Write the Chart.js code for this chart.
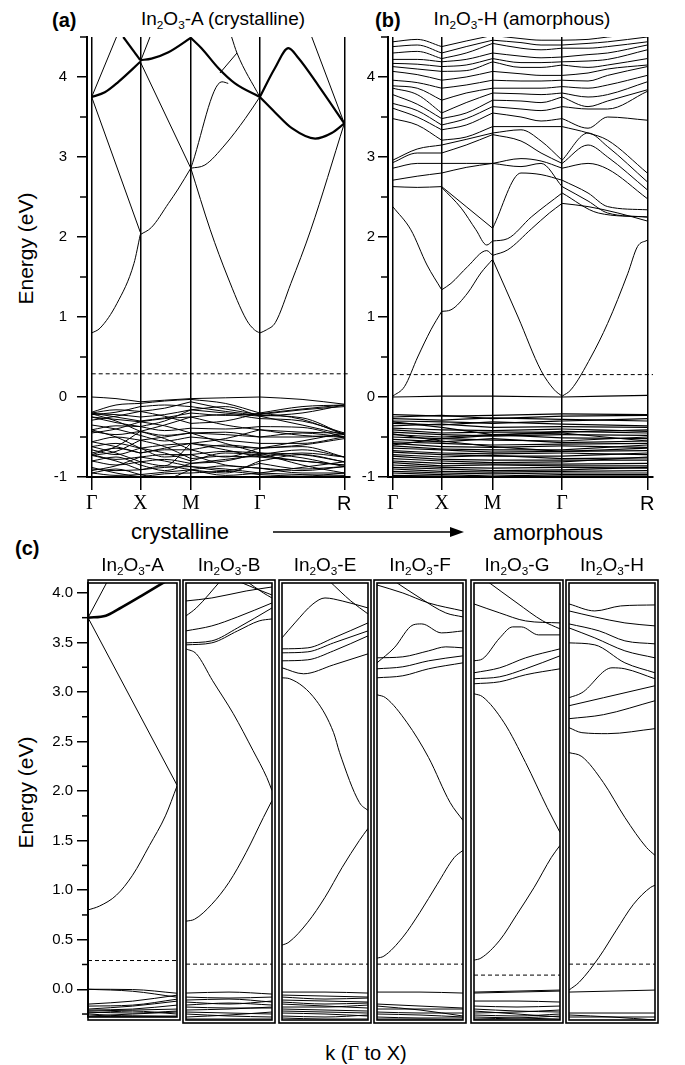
<!DOCTYPE html>
<html>
<head>
<meta charset="utf-8">
<title>In2O3 band structures</title>
<script src="https://cdn.jsdelivr.net/npm/chart.js@4.4.1/dist/chart.umd.min.js"></script>
<style>
  body { margin: 0; background: #fff; }
  #page { position: relative; width: 685px; height: 1065px; overflow: hidden; font-family: "Liberation Sans", Arial, sans-serif; color: #000; }
  #page canvas { position: absolute; }
  .t { position: absolute; white-space: nowrap; line-height: 1; }
  .t sub { font-size: 0.62em; vertical-align: -0.3em; line-height: 0; }
  .panel { font-weight: bold; font-size: 20px; }
  .title { font-size: 19px; text-align: center; }
  .ylab { font-size: 21px; width: 200px; text-align: center; transform: rotate(-90deg); }
  .big { font-size: 22px; text-align: center; width: 200px; }
  .serif { font-family: "Liberation Serif", "DejaVu Serif", serif; }
</style>
</head>
<body>
<div id="page">
  <div class="t panel" style="left:52px;top:10px">(a)</div>
  <div class="t title" style="left:123px;width:200px;top:9px">In<sub>2</sub>O<sub>3</sub>-A (crystalline)</div>
  <div class="t panel" style="left:375px;top:10px">(b)</div>
  <div class="t title" style="left:422px;width:200px;top:9px">In<sub>2</sub>O<sub>3</sub>-H (amorphous)</div>
  <div class="t ylab" style="left:-75px;top:238px">Energy (eV)</div>
  <div class="t panel" style="left:15px;top:538px">(c)</div>
  <div class="t big" style="left:80px;top:521px">crystalline</div>
  <div class="t big" style="left:448px;top:522px">amorphous</div>
  <svg style="position:absolute;left:270px;top:526px" width="200" height="12">
    <line x1="3" y1="6" x2="184" y2="6" stroke="#000" stroke-width="1.5"/>
    <polygon points="180,1 194,6 180,11" fill="#000"/>
  </svg>
  <div class="t ylab" style="left:-75px;top:782px">Energy (eV)</div>
  <div class="t" style="left:316px;width:100px;text-align:center;top:1043px;font-size:20px">k (<span class="serif">Γ</span> to X)</div>
</div>
<script>
// high-symmetry path for panels (a) and (b)
const kSym = [0, 1, 2.04, 3.46, 5.2];
const symLabels = ['Γ', 'X', 'M', 'Γ', 'R'];
const yMajorAB = [-1, 0, 1, 2, 3, 4];
const yMinorAB = [-0.5, 0.5, 1.5, 2.5, 3.5, 4.5];
const yMajorC = [0, 0.5, 1, 1.5, 2, 2.5, 3, 3.5, 4];
const yMinorC = [-0.25, 0.25, 0.75, 1.25, 1.75, 2.25, 2.75, 3.25, 3.75];
const fermiA = 0.29;
const fermiB = 0.28;

// (a) In2O3-A, conduction bands as [k, E] paths
const aThick = [
  [[0, 3.75], [0.27, 3.81], [0.55, 3.94], [1, 4.19]],
  [[0.65, 4.5], [1, 4.21]],
  [[1, 4.21], [1.23, 4.23], [1.58, 4.31], [2.04, 4.49]],
  [[2.04, 4.49], [2.26, 4.36], [2.61, 4.11], [2.95, 3.92], [3.46, 3.75]],
  [[3.46, 3.75], [3.77, 3.56], [4.12, 3.36], [4.6, 3.23], [4.94, 3.3], [5.2, 3.42]],
  [[3.46, 3.75], [3.77, 4.11], [4.05, 4.36], [4.25, 4.24], [4.67, 3.89], [5.2, 3.42]]
];
const aThin = [
  [[0, 0.8], [0.17, 0.86], [0.52, 1.17], [0.87, 1.67], [1, 2.03], [1.23, 2.12], [1.58, 2.42], [1.78, 2.6], [2.04, 2.86],
   [2.44, 2.09], [2.8, 1.5], [3.19, 0.96], [3.35, 0.84], [3.46, 0.8], [3.6, 0.84], [3.78, 0.93], [4.1, 1.42], [4.51, 2.09], [5.2, 3.42]],
  [[0, 3.75], [1, 2.06]],
  [[0, 3.75], [0.51, 4.5]],
  [[1, 4.19], [1.2, 4.5]],
  [[1, 4.19], [2.04, 2.86]],
  [[2.04, 2.86], [2.33, 2.9], [2.74, 3.15], [3.16, 3.48], [3.46, 3.75]],
  [[2.04, 2.86], [2.68, 3.94], [2.81, 3.92]],
  [[2.64, 4.05], [2.99, 4.3]],
  [[2.88, 4.5], [2.99, 4.3], [3.46, 3.75]],
  [[4.53, 4.5], [5.2, 3.42]]
];
// (a) valence bands, energies at aValK
const aValK = [0, 0.5, 1, 1.5, 2.04, 2.75, 3.46, 4.33, 5.2];
const aVal = [
  [0.00, -0.02, -0.06, -0.04, -0.02, -0.01, 0.00, -0.03, -0.09],
  [-0.19, -0.10, -0.08, -0.05, -0.03, -0.08, -0.20, -0.12, -0.10],
  [-0.20, -0.16, -0.18, -0.14, -0.06, -0.15, -0.22, -0.16, -0.12],
  [-0.21, -0.22, -0.25, -0.22, -0.16, -0.20, -0.24, -0.20, -0.10],
  [-0.25, -0.28, -0.31, -0.27, -0.25, -0.22, -0.27, -0.30, -0.45],
  [-0.29, -0.24, -0.18, -0.24, -0.33, -0.30, -0.20, -0.28, -0.47],
  [-0.41, -0.36, -0.37, -0.42, -0.39, -0.40, -0.37, -0.38, -0.50],
  [-0.43, -0.47, -0.43, -0.35, -0.25, -0.35, -0.41, -0.44, -0.45],
  [-0.56, -0.50, -0.54, -0.50, -0.45, -0.44, -0.50, -0.50, -0.47],
  [-0.62, -0.58, -0.64, -0.60, -0.58, -0.52, -0.41, -0.48, -0.50],
  [-0.70, -0.64, -0.70, -0.66, -0.66, -0.60, -0.64, -0.62, -0.75],
  [-0.72, -0.78, -0.75, -0.72, -0.72, -0.68, -0.70, -0.72, -0.81],
  [-0.73, -0.68, -0.54, -0.62, -0.77, -0.74, -0.75, -0.80, -0.85],
  [-0.80, -0.85, -0.81, -0.78, -0.83, -0.80, -0.70, -0.76, -0.87],
  [-0.90, -0.92, -0.91, -0.88, -0.87, -0.92, -0.83, -0.90, -0.87],
  [-0.95, -0.98, -0.97, -0.94, -0.91, -0.86, -0.89, -0.95, -0.95],
  [-0.62, -0.70, -0.81, -0.86, -0.58, -0.66, -0.75, -0.70, -0.75],
  [-0.21, -0.30, -0.43, -0.52, -0.66, -0.75, -0.64, -0.55, -0.45],
  [-0.25, -0.32, -0.37, -0.30, -0.16, -0.12, -0.24, -0.35, -0.47],
  [-0.72, -0.62, -0.43, -0.48, -0.45, -0.58, -0.70, -0.85, -0.95],
  [-0.95, -0.90, -0.97, -1.02, -0.91, -0.98, -0.95, -0.88, -0.81],
  [-0.41, -0.50, -0.64, -0.75, -0.72, -0.85, -0.89, -0.92, -0.87],
  [-0.20, -0.25, -0.30, -0.26, -0.20, -0.23, -0.21, -0.15, -0.10],
  [-0.22, -0.19, -0.12, -0.10, -0.12, -0.18, -0.23, -0.26, -0.47],
  [-0.45, -0.40, -0.31, -0.36, -0.45, -0.47, -0.50, -0.45, -0.50],
  [-0.56, -0.62, -0.70, -0.64, -0.58, -0.62, -0.64, -0.60, -0.52],
  [-0.66, -0.72, -0.64, -0.70, -0.80, -0.70, -0.72, -0.66, -0.75],
  [-0.80, -0.75, -0.85, -0.92, -0.83, -0.78, -0.73, -0.80, -0.85],
  [-0.88, -0.95, -1.00, -0.96, -0.95, -0.93, -0.97, -0.99, -0.95],
  [-0.73, -0.80, -0.91, -0.86, -0.91, -0.95, -0.80, -0.72, -0.81],
  [-0.35, -0.40, -0.48, -0.55, -0.50, -0.54, -0.58, -0.58, -0.50],
  [-0.92, -0.86, -0.75, -0.80, -0.87, -0.90, -0.95, -0.97, -0.98]
];

// (b) In2O3-H, lower conduction bands as [k, E] paths
const bCond = [
  [[0, 0.01], [0.24, 0.13], [0.51, 0.5], [0.78, 0.84], [1, 1.07], [1.19, 1.09], [1.53, 1.3], [1.8, 1.55], [2.04, 1.72],
   [2.56, 1.0], [3.03, 0.33], [3.3, 0.09], [3.46, 0.01], [3.64, 0.09], [4.05, 0.5], [4.39, 0.92], [4.8, 1.54], [5.0, 1.88], [5.2, 1.96]],
  [[0, 2.38], [0.37, 2.09], [0.7, 1.65], [1, 1.34], [1.19, 1.42], [1.53, 1.63], [1.92, 1.83], [2.04, 1.77],
   [2.35, 1.84], [2.83, 2.1], [3.2, 2.3], [3.46, 2.42], [3.99, 2.38], [4.6, 2.3], [5.2, 2.2]],
  [[1, 2.62], [1.4, 2.36], [1.7, 2.09], [1.92, 1.9], [2.04, 1.95], [2.35, 1.98], [2.83, 2.25], [3.46, 2.55], [4.2, 2.3], [5.2, 2.25]]
];
// (b) upper conduction bands, energies at bUpK
const bUpK = [0, 0.5, 1, 1.5, 2.04, 2.62, 3.03, 3.46, 3.99, 4.39, 5.2];
const bUp = [
  [2.63, 2.62, 2.63, 2.38, 2.11, 2.80, 2.78, 2.71, 2.55, 2.38, 2.34],
  [2.71, 2.76, 2.80, 2.87, 2.92, 2.88, 2.92, 2.63, 2.45, 2.30, 2.25],
  [2.86, 2.92, 2.92, 2.92, 2.92, 2.98, 2.95, 2.86, 2.92, 2.85, 2.48],
  [2.93, 3.05, 3.05, 3.15, 3.28, 3.20, 3.05, 2.92, 3.15, 3.00, 2.59],
  [2.96, 3.10, 3.15, 3.22, 3.30, 3.34, 3.20, 2.96, 3.30, 3.13, 2.69],
  [3.48, 3.40, 3.21, 3.25, 3.38, 3.38, 3.38, 3.38, 3.30, 3.21, 2.80],
  [3.61, 3.50, 3.34, 3.40, 3.55, 3.50, 3.45, 3.48, 3.36, 3.50, 3.46],
  [3.67, 3.58, 3.40, 3.48, 3.63, 3.60, 3.58, 3.63, 3.60, 3.60, 3.82],
  [3.78, 3.66, 3.48, 3.55, 3.71, 3.70, 3.68, 3.75, 3.63, 3.70, 3.84],
  [3.86, 3.78, 3.55, 3.68, 3.80, 3.79, 3.78, 3.80, 3.75, 3.78, 3.94],
  [3.89, 3.86, 3.71, 3.80, 3.86, 3.86, 3.86, 3.88, 3.86, 3.90, 4.02],
  [3.96, 3.93, 3.86, 3.90, 3.96, 3.95, 3.95, 3.96, 3.95, 4.02, 4.13],
  [4.07, 4.03, 3.96, 4.00, 4.07, 4.04, 4.02, 4.02, 4.05, 4.10, 4.15],
  [4.13, 4.10, 4.07, 4.08, 4.19, 4.12, 4.12, 4.15, 4.12, 4.15, 4.23],
  [4.17, 4.16, 4.13, 4.15, 4.23, 4.18, 4.18, 4.19, 4.20, 4.22, 4.34],
  [4.22, 4.22, 4.19, 4.22, 4.30, 4.26, 4.24, 4.25, 4.28, 4.30, 4.40],
  [4.30, 4.32, 4.23, 4.30, 4.42, 4.36, 4.34, 4.36, 4.36, 4.38, 4.44],
  [4.38, 4.40, 4.30, 4.38, 4.46, 4.43, 4.40, 4.40, 4.42, 4.44, 4.50],
  [4.44, 4.47, 4.38, 4.45, 4.52, 4.48, 4.46, 4.46, 4.47, 4.50, 4.55]
];
// (b) valence bands, energies at Γ X M Γ R
const bVal = [
  [0.00, 0.01, 0.01, 0.00, 0.02],
  [-0.22, -0.24, -0.23, -0.21, -0.22],
  [-0.25, -0.23, -0.27, -0.24, -0.23],
  [-0.27, -0.29, -0.26, -0.28, -0.30],
  [-0.30, -0.31, -0.33, -0.30, -0.27],
  [-0.33, -0.35, -0.31, -0.34, -0.36],
  [-0.36, -0.34, -0.38, -0.37, -0.38],
  [-0.39, -0.41, -0.42, -0.40, -0.43],
  [-0.41, -0.45, -0.44, -0.44, -0.41],
  [-0.44, -0.47, -0.49, -0.47, -0.48],
  [-0.47, -0.50, -0.47, -0.51, -0.52],
  [-0.50, -0.52, -0.54, -0.55, -0.50],
  [-0.53, -0.56, -0.52, -0.57, -0.55],
  [-0.56, -0.58, -0.60, -0.59, -0.58],
  [-0.58, -0.62, -0.63, -0.61, -0.63],
  [-0.61, -0.65, -0.66, -0.66, -0.60],
  [-0.64, -0.66, -0.69, -0.68, -0.67],
  [-0.67, -0.70, -0.71, -0.70, -0.72],
  [-0.69, -0.72, -0.74, -0.74, -0.70],
  [-0.72, -0.75, -0.73, -0.77, -0.76],
  [-0.74, -0.78, -0.79, -0.79, -0.79],
  [-0.77, -0.80, -0.82, -0.81, -0.75],
  [-0.80, -0.83, -0.84, -0.84, -0.83],
  [-0.82, -0.86, -0.85, -0.86, -0.86],
  [-0.85, -0.88, -0.89, -0.88, -0.89],
  [-0.88, -0.90, -0.92, -0.91, -0.88],
  [-0.90, -0.93, -0.94, -0.93, -0.92],
  [-0.93, -0.95, -0.96, -0.95, -0.95],
  [-0.95, -0.97, -0.99, -0.97, -0.97],
  [-0.98, -0.99, -1.00, -0.99, -0.99],
  [-0.46, -0.55, -0.62, -0.68, -0.64],
  [-0.60, -0.52, -0.48, -0.43, -0.45],
  [-0.31, -0.38, -0.47, -0.45, -0.55]
];

// (c) Γ to X for the six structures
const cNames = ['A', 'B', 'E', 'F', 'G', 'H'];
const cFermi = [0.29, 0.28, 0.28, 0.28, 0.17, 0.28];
const cThickA = [[[0, 3.75], [0.2, 3.77], [0.35, 3.84], [0.6, 3.97], [0.88, 4.12]]];
const cBandsA = [
  [[0, 3.75], [0.22, 4.12]],
  [[0, 3.75], [1, 2.06]],
  [[0, 0.8], [0.13, 0.84], [0.32, 0.95], [0.5, 1.15], [0.69, 1.45], [0.87, 1.75], [1, 2.05]]
];
const cBandsB = [
  [[0, 3.92], [0.3, 3.95], [0.7, 4.02], [1, 4.06]],
  [[0, 3.77], [0.12, 3.85], [0.4, 4.12]],
  [[0.6, 4.12], [0.85, 4.03], [1, 3.98]],
  [[0.7, 4.12], [0.9, 4.0], [1, 3.95]],
  [[0, 3.62], [0.3, 3.67], [0.6, 3.76], [1, 3.9]],
  [[0, 3.5], [0.3, 3.52], [0.6, 3.65], [1, 3.85]],
  [[0, 3.48], [0.3, 3.5], [0.6, 3.62], [0.85, 3.72], [1, 3.74]],
  [[0, 3.44], [0.12, 3.39], [0.31, 3.12], [0.55, 2.79], [0.78, 2.42], [0.94, 2.15], [1, 2.02]],
  [[0, 0.71], [0.1, 0.73], [0.3, 0.88], [0.5, 1.1], [0.7, 1.4], [0.9, 1.75], [1, 1.92]]
];
const cBandsE = [
  [[0, 3.55], [0.15, 3.7], [0.36, 3.89], [0.5, 3.95], [0.7, 3.92], [1, 3.85]],
  [[0.55, 4.12], [0.8, 3.92], [1, 3.79]],
  [[0, 3.44], [0.3, 3.45], [0.6, 3.55], [1, 3.7]],
  [[0, 3.4], [0.3, 3.41], [0.6, 3.5], [1, 3.62]],
  [[0, 3.32], [0.3, 3.33], [0.6, 3.42], [1, 3.57]],
  [[0, 3.25], [0.25, 3.19], [0.6, 3.28], [1, 3.39]],
  [[0, 3.15], [0.09, 3.14], [0.4, 2.92], [0.6, 2.6], [0.67, 2.4], [0.9, 1.9], [1, 1.82]],
  [[0, 0.47], [0.08, 0.5], [0.3, 0.7], [0.5, 0.95], [0.7, 1.25], [0.9, 1.52], [1, 1.64]]
];
const cBandsF = [
  [[0, 4.08], [0.3, 4.0], [0.6, 3.9], [1, 3.82]],
  [[0.2, 4.12], [0.5, 3.95], [0.8, 3.8], [1, 3.76]],
  [[0, 3.3], [0.2, 3.45], [0.42, 3.68], [0.52, 3.69], [0.75, 3.6], [1, 3.62]],
  [[0, 3.35], [0.3, 3.36], [0.6, 3.42], [0.8, 3.46], [1, 3.45]],
  [[0, 3.24], [0.3, 3.26], [0.6, 3.32], [1, 3.37]],
  [[0, 3.15], [0.3, 3.17], [0.6, 3.24], [1, 3.3]],
  [[0, 2.98], [0.1, 2.95], [0.35, 2.7], [0.6, 2.35], [0.85, 1.9], [1, 1.72]],
  [[0, 0.34], [0.08, 0.36], [0.3, 0.55], [0.5, 0.8], [0.7, 1.08], [0.9, 1.35], [1, 1.42]]
];
const cBandsG = [
  [[0, 3.89], [0.3, 3.8], [0.6, 3.72], [1, 3.7]],
  [[0.15, 4.12], [0.5, 3.9], [0.8, 3.72], [1, 3.64]],
  [[0, 3.32], [0.1, 3.34], [0.3, 3.55], [0.45, 3.66], [0.55, 3.66], [0.75, 3.58], [1, 3.58]],
  [[0, 3.2], [0.3, 3.25], [0.6, 3.35], [1, 3.44]],
  [[0, 3.14], [0.3, 3.16], [0.6, 3.24], [1, 3.37]],
  [[0, 3.09], [0.3, 3.11], [0.6, 3.18], [1, 3.24]],
  [[0, 2.99], [0.1, 2.96], [0.35, 2.7], [0.6, 2.3], [0.85, 1.85], [1, 1.6]],
  [[0, 0.32], [0.08, 0.34], [0.3, 0.52], [0.5, 0.78], [0.7, 1.05], [0.9, 1.35], [1, 1.47]]
];
const cBandsH = [
  [[0, 3.89], [0.3, 3.82], [0.6, 3.87], [1, 3.88]],
  [[0, 3.82], [0.3, 3.76], [0.65, 3.7], [1, 3.67]],
  [[0, 3.69], [0.35, 3.62], [0.65, 3.52], [1, 3.49]],
  [[0, 3.65], [0.3, 3.55], [0.65, 3.42], [1, 3.35]],
  [[0, 3.5], [0.3, 3.48], [0.65, 3.3], [1, 3.2]],
  [[0, 2.95], [0.15, 3.0], [0.5, 3.25], [0.65, 3.24], [1, 3.14]],
  [[0, 2.87], [0.4, 2.95], [1, 3.07]],
  [[0, 2.74], [0.4, 2.78], [1, 2.92]],
  [[0, 2.65], [0.15, 2.6], [0.45, 2.59], [1, 2.64]],
  [[0, 2.4], [0.15, 2.36], [0.4, 2.1], [0.65, 1.75], [0.9, 1.45], [1, 1.37]],
  [[0, 0.02], [0.12, 0.1], [0.35, 0.35], [0.55, 0.62], [0.75, 0.88], [0.95, 1.05], [1, 1.07]]
];
// (c) valence bands, energies at cValK
const cValK = [0, 0.5, 1];
const cValA = [[0, -0.003, -0.04], [0, -0.02, -0.08], [-0.15, -0.12, -0.06], [-0.17, -0.16, -0.1], [-0.2, -0.17, -0.12],
  [-0.21, -0.2, -0.16], [-0.22, -0.21, -0.2], [-0.23, -0.24, -0.22], [-0.24, -0.22, -0.25], [-0.25, -0.27, -0.27],
  [-0.27, -0.25, -0.23], [-0.28, -0.27, -0.28]];
const cValB = [[-0.01, 0.0, -0.02], [-0.05, -0.06, -0.05], [-0.08, -0.07, -0.1], [-0.1, -0.12, -0.09], [-0.13, -0.11, -0.13],
  [-0.15, -0.16, -0.16], [-0.18, -0.17, -0.15], [-0.2, -0.21, -0.22], [-0.22, -0.24, -0.25], [-0.25, -0.23, -0.2],
  [-0.27, -0.27, -0.27]];
const cValE = [[0.0, 0.0, -0.01], [-0.03, -0.04, -0.05], [-0.05, -0.07, -0.06], [-0.08, -0.09, -0.1], [-0.1, -0.12, -0.11],
  [-0.12, -0.14, -0.16], [-0.15, -0.15, -0.13], [-0.17, -0.18, -0.19], [-0.19, -0.2, -0.21], [-0.21, -0.22, -0.24],
  [-0.24, -0.25, -0.23], [-0.26, -0.27, -0.27]];
const cValF = [[0.0, 0.0, -0.01], [-0.12, -0.14, -0.16], [-0.14, -0.18, -0.24], [-0.17, -0.17, -0.17], [-0.2, -0.21, -0.21],
  [-0.22, -0.23, -0.25], [-0.25, -0.26, -0.26], [-0.27, -0.27, -0.28]];
const cValG = [[0.0, 0.01, 0.02], [-0.01, 0.0, 0.01], [-0.09, -0.09, -0.1], [-0.14, -0.15, -0.14], [-0.17, -0.19, -0.2],
  [-0.19, -0.22, -0.25], [-0.21, -0.2, -0.18], [-0.23, -0.24, -0.22], [-0.25, -0.26, -0.27], [-0.27, -0.26, -0.24],
  [-0.28, -0.28, -0.28]];
const cValH = [[0.0, 0.01, 0.02], [-0.21, -0.21, -0.21], [-0.23, -0.25, -0.28], [-0.25, -0.25, -0.25]];

const cBands = [cBandsA, cBandsB, cBandsE, cBandsF, cBandsG, cBandsH];
const cVal = [cValA, cValB, cValE, cValF, cValG, cValH];

// ---------------------------------------------------------------
const sans = '"Liberation Sans", Arial, sans-serif';
const serif = '"Liberation Serif", "DejaVu Serif", serif';
Chart.defaults.font.family = sans;
Chart.defaults.color = '#000';

const kMin = -0.0968, kMax = 5.317;

function onGrid(grid, vals) {
  return grid.map((k, i) => [k, vals[i]]);
}

// cut a path at the high-symmetry points so the kinks stay sharp
function splitAtSym(path) {
  const segs = [];
  let cur = [path[0]];
  for (let i = 1; i < path.length; i++) {
    cur.push(path[i]);
    if (kSym.includes(path[i][0]) && i < path.length - 1) {
      segs.push(cur);
      cur = [path[i]];
    }
  }
  segs.push(cur);
  return segs;
}

function lineSet(path, w) {
  return {
    data: path.map(p => ({ x: p[0], y: p[1] })),
    borderColor: '#000', borderWidth: w, pointRadius: 0, fill: false,
    cubicInterpolationMode: 'monotone'
  };
}

function dashSet(e, x0, x1) {
  return {
    data: [{ x: x0, y: e }, { x: x1, y: e }],
    borderColor: '#000', borderWidth: 1, borderDash: [4, 3], pointRadius: 0, fill: false
  };
}

function pathSets(paths, w) {
  const out = [];
  paths.forEach(p => splitAtSym(p).forEach(s => out.push(lineSet(s, w))));
  return out;
}

function makeCanvas(left, top, w, h) {
  const c = document.createElement('canvas');
  c.width = w; c.height = h;
  c.style.left = left + 'px'; c.style.top = top + 'px';
  c.style.width = w + 'px'; c.style.height = h + 'px';
  document.getElementById('page').appendChild(c);
  return c;
}

const minorTicks = {
  id: 'minorTicks',
  afterDraw(chart, args, o) {
    if (!o.values) return;
    const y = chart.scales.y, ctx = chart.ctx, x0 = chart.chartArea.left;
    ctx.save();
    ctx.strokeStyle = '#000';
    ctx.lineWidth = 1.5;
    o.values.forEach(v => {
      const py = y.getPixelForValue(v);
      ctx.beginPath();
      ctx.moveTo(x0 - o.len, py);
      ctx.lineTo(x0, py);
      ctx.stroke();
    });
    ctx.restore();
  }
};

const boxFrame = {
  id: 'boxFrame',
  afterDraw(chart, args, o) {
    if (!o.on) return;
    const a = chart.chartArea, ctx = chart.ctx;
    ctx.save();
    ctx.strokeStyle = '#000';
    ctx.lineWidth = 1.6;
    ctx.strokeRect(a.left, a.top, a.right - a.left, a.bottom - a.top);
    const l = o.axis ? a.left : a.left - 3;
    ctx.strokeRect(l, a.top - 3, a.right + 3 - l, a.bottom - a.top + 6);
    ctx.restore();
  }
};

function pathChart(canvas, yAxisW, padRight, labelPad, datasets) {
  return new Chart(canvas, {
    type: 'line',
    data: { datasets },
    options: {
      responsive: false, animation: false, events: [],
      layout: { padding: { top: 37, right: padRight, left: 0, bottom: 0 } },
      plugins: { legend: { display: false }, tooltip: { enabled: false },
                 minorTicks: { values: yMinorAB, len: 7 } },
      scales: {
        x: {
          type: 'linear', min: kMin, max: kMax,
          afterBuildTicks: s => { s.ticks = kSym.map(v => ({ value: v })); },
          afterFit: s => { s.height = 43; },
          grid: { color: '#000', lineWidth: 1.5, tickLength: 13, drawOnChartArea: true },
          border: { color: '#000', width: 2 },
          ticks: {
            autoSkip: false, maxRotation: 0, padding: 2,
            callback: (v, i) => symLabels[i],
            font: c => ({ family: symLabels[c.index] === 'R' ? sans : serif, size: 20 })
          }
        },
        y: {
          type: 'linear', min: -1, max: 4.5,
          afterBuildTicks: s => { s.ticks = yMajorAB.map(v => ({ value: v })); },
          afterFit: s => { s.width = yAxisW; },
          grid: { drawOnChartArea: false, color: '#000', tickLength: 10, lineWidth: 1.5 },
          border: { color: '#000', width: 2 },
          ticks: { padding: labelPad, font: { size: 15 }, callback: v => String(v) }
        }
      }
    },
    plugins: [minorTicks]
  });
}

// panel (a)
const aSets = [].concat(
  pathSets(aThick, 2.2),
  pathSets(aThin, 1),
  pathSets(aVal.map(v => onGrid(aValK, v)), 1),
  [dashSet(fermiA, 0, kMax)]
);
pathChart(makeCanvas(0, 0, 355, 520), 87, 5, 10, aSets);

// panel (b)
const bSets = [].concat(
  pathSets(bCond, 1),
  pathSets(bUp.map(v => onGrid(bUpK, v)), 1),
  pathSets(bVal.map(v => onGrid(kSym, v)), 1.2),
  [dashSet(fermiB, 0, kMax)]
);
pathChart(makeCanvas(340, 0, 320, 520), 48, 7, 3, bSets);

// panel (c)
const cLeft = [88, 186, 282, 377, 474, 569];
const cRight = [177, 272, 368, 463, 560, 655];
cNames.forEach((name, i) => {
  const sets = [];
  if (name === 'A') cThickA.forEach(p => sets.push(lineSet(p, 2.6)));
  cBands[i].forEach(p => sets.push(lineSet(p, 1)));
  cVal[i].forEach(v => sets.push(lineSet(onGrid(cValK, v), 1)));
  sets.push(dashSet(cFermi[i], 0, 1));

  const axis = i === 0;
  const left = axis ? 0 : cLeft[i] - 6;
  const width = cRight[i] + 6 - left;
  new Chart(makeCanvas(left, 570, width, 460), {
    type: 'line',
    data: { datasets: sets },
    options: {
      responsive: false, animation: false, events: [],
      layout: { padding: { top: 13, bottom: 10, left: axis ? 0 : 6, right: 6 } },
      plugins: { legend: { display: false }, tooltip: { enabled: false },
                 boxFrame: { on: true, axis },
                 minorTicks: axis ? { values: yMinorC, len: 6 } : {} },
      scales: {
        x: { type: 'linear', min: 0, max: 1, display: false },
        y: {
          type: 'linear', min: -0.28, max: 4.1, display: axis,
          afterBuildTicks: s => { s.ticks = yMajorC.map(v => ({ value: v })); },
          afterFit: s => { if (axis) s.width = 88; },
          grid: { drawOnChartArea: false, color: '#000', tickLength: 11, lineWidth: 1.5 },
          border: { color: '#000', width: 2 },
          ticks: { padding: 4, font: { size: 15 }, callback: v => v.toFixed(1) }
        }
      }
    },
    plugins: [boxFrame, minorTicks]
  });

  const d = document.createElement('div');
  d.className = 't title';
  d.style.left = ((cLeft[i] + cRight[i]) / 2 - 50) + 'px';
  d.style.width = '100px';
  d.style.top = '555px';
  d.innerHTML = 'In<sub>2</sub>O<sub>3</sub>-' + name;
  document.getElementById('page').appendChild(d);
});
</script>
</body>
</html>
